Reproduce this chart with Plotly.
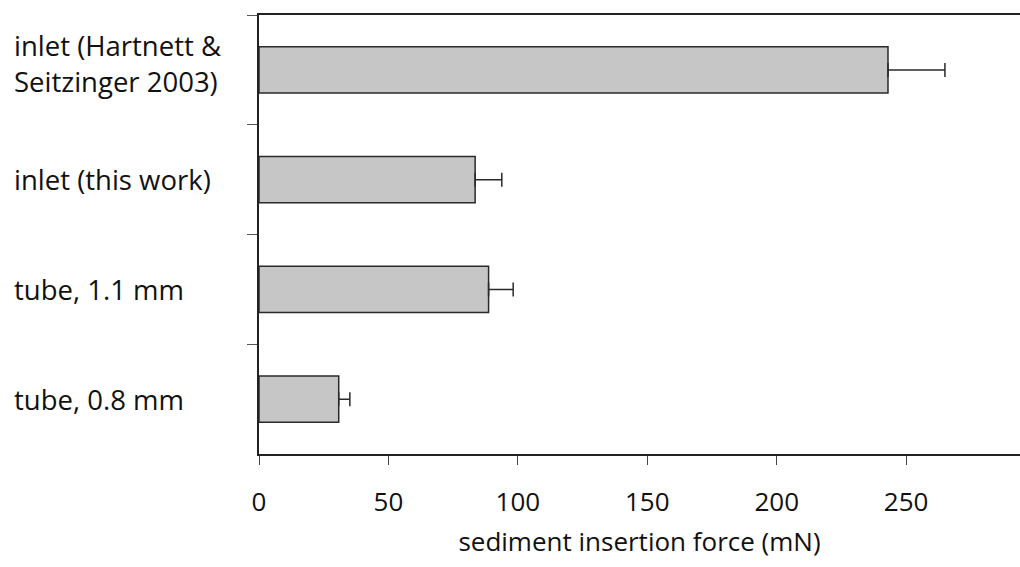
import plotly.graph_objects as go

categories = ["inlet (Hartnett &<br>Seitzinger 2003)", "inlet (this work)", "tube, 1.1 mm", "tube, 0.8 mm"]
force_mN = [243, 83.5, 88.7, 30.8]
force_err = [22, 10.3, 9.5, 4.3]
x_ticks = [0, 50, 100, 150, 200, 250]

FONT = "Open Sans"
fig = go.Figure()
fig.add_trace(go.Bar(
    y=categories, x=force_mN, orientation="h", width=0.42,
    marker=dict(color="#c6c6c6", line=dict(color="#2a2a2a", width=1.5)),
    error_x=dict(type="data", array=force_err, symmetric=False, arrayminus=[0]*4,
                 color="#2a2a2a", thickness=1.5, width=7),
    showlegend=False,
))
for i, c in enumerate(categories):
    fig.add_annotation(text=c, xref="paper", yref="y", x=-0.325, y=c,
                       xanchor="left", yanchor="middle", align="left", showarrow=False,
                       yshift=6 if i == 0 else 0,
                       font=dict(family=FONT, size=27.5, color="#111"))

fig.update_layout(
    width=1020, height=567, margin=dict(l=259, r=0, t=15, b=113),
    paper_bgcolor="white", plot_bgcolor="white",
    font=dict(family=FONT, size=26, color="#111"),
    xaxis=dict(range=[0, 294], tickvals=x_ticks, showgrid=False, zeroline=False,
               showline=True, linecolor="#222", linewidth=2, mirror=True,
               ticks="outside", ticklen=9, tickcolor="#444", tickwidth=1.2,
               ticklabelstandoff=15, tickfont=dict(family=FONT, size=26),
               title=dict(text="sediment insertion force (mN)", standoff=15,
                          font=dict(family=FONT, size=26))),
    yaxis=dict(categoryorder="array", categoryarray=categories, autorange="reversed",
               tickson="boundaries", ticks="outside", ticklen=10, tickcolor="#555", tickwidth=1.2,
               showticklabels=False, showgrid=False, zeroline=False,
               showline=True, linecolor="#222", linewidth=1.5),
)
fig.write_html("out.html")
